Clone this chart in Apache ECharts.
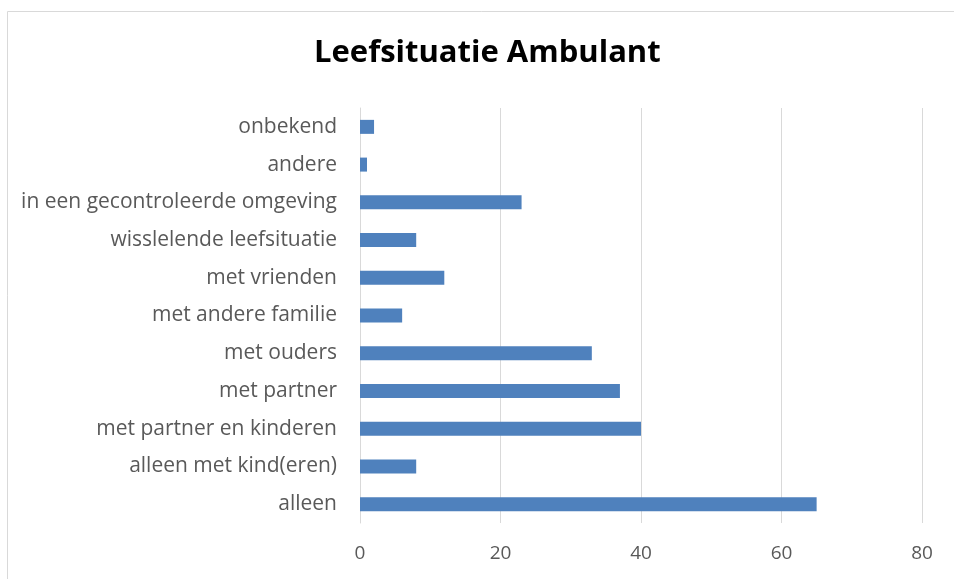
<!DOCTYPE html>
<html>
<head>
<meta charset="utf-8">
<script src="https://cdn.jsdelivr.net/npm/echarts@6/dist/echarts.min.js"></script>
<style>
  html, body { margin: 0; padding: 0; background: #fff; }
  #main { width: 954px; height: 579px; }
</style>
</head>
<body>
<div id="main"></div>
<script>
// categories from bottom to top
const categories = ['alleen', 'alleen met kind(eren)', 'met partner en kinderen', 'met partner',
  'met ouders', 'met andere familie', 'met vrienden', 'wisslelende leefsituatie',
  'in een gecontroleerde omgeving', 'andere', 'onbekend'];
const values = [65, 8, 40, 37, 33, 6, 12, 8, 23, 1, 2];

const chart = echarts.init(document.getElementById('main'));
const font = 'Open Sans';

chart.setOption({
  animation: false,
  title: {
    text: 'Leefsituatie Ambulant',
    left: 309, top: 33,
    textStyle: { fontFamily: font, fontSize: 31, fontWeight: 'bold', color: '#000' }
  },
  graphic: [{
    type: 'rect',
    shape: { x: 7.5, y: 11.5, width: 1000, height: 700 },
    style: { fill: 'none', stroke: '#d9d9d9', lineWidth: 1 }
  }],
  grid: { left: 360, right: 32, top: 108, bottom: 56 },
  xAxis: {
    type: 'value', min: 0, max: 80, interval: 20,
    axisLine: { show: false }, axisTick: { show: false },
    splitLine: { lineStyle: { color: '#d9d9d9', width: 1 } },
    axisLabel: { fontFamily: font, fontSize: 19, color: '#595959', margin: 21 }
  },
  yAxis: {
    type: 'category', data: categories,
    axisLine: { lineStyle: { color: '#d9d9d9' } }, axisTick: { show: false },
    axisLabel: { fontFamily: font, fontSize: 21, color: '#595959', margin: 23 }
  },
  series: [{
    type: 'bar', data: values, barWidth: 14,
    itemStyle: { color: '#4f81bd' }
  }]
});
</script>
</body>
</html>
